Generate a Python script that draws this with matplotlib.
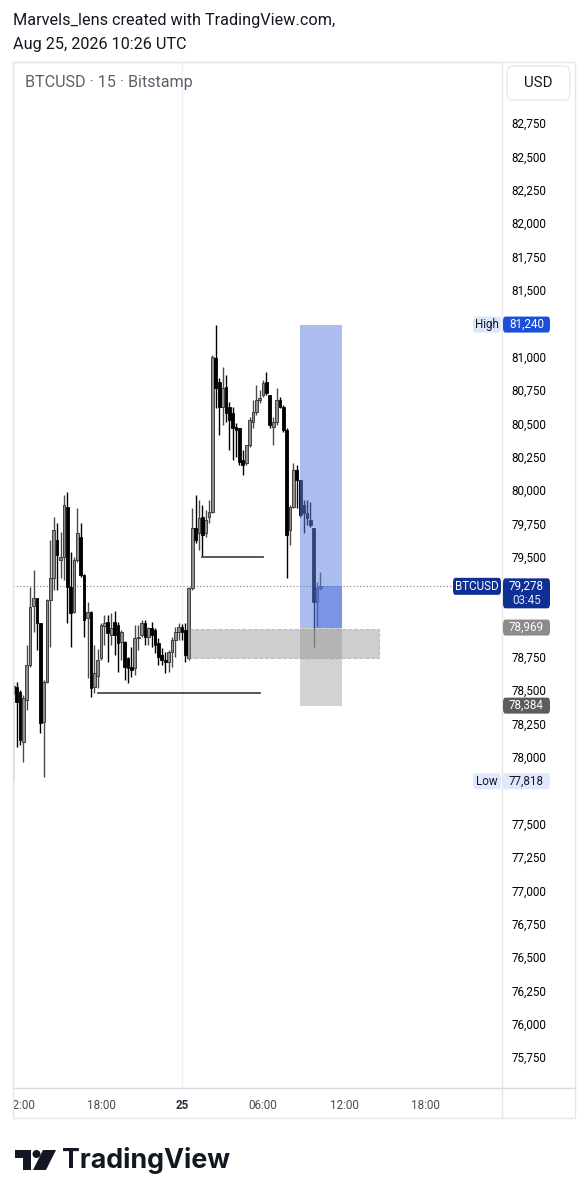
import numpy as np
import pandas as pd
import matplotlib
matplotlib.use('Agg')
import matplotlib.pyplot as plt
import matplotlib.dates as mdates
from matplotlib.patches import Rectangle, FancyBboxPatch, Circle, Polygon
from matplotlib.lines import Line2D
from matplotlib.transforms import Bbox, TransformedBbox

plt.rcParams['font.family'] = ['Roboto', 'DejaVu Sans']

# BTCUSD 15m candles, Aug 24 11:30 -> Aug 25 10:15 UTC
opens = [78476, 78526, 78488, 78114, 78426, 78688, 79130, 79188, 79001, 78263,
         78563, 79175, 79338, 79625, 79475, 79500, 79875, 79275, 79088, 79475,
         79650, 79363, 79038, 79088, 78526, 78606, 78741, 78981, 79011, 78913,
         79011, 78988, 78861, 78861, 78741, 78673, 78666, 78891, 78913, 79003,
         78898, 78966, 78951, 78853, 78763, 78726, 78711, 78786, 78876, 78936,
         78973, 78951, 78741, 79265, 79715, 79678, 79798, 79678, 79798, 79835,
         80989, 80809, 80622, 80772, 80622, 80577, 80472, 80465, 80225, 80202,
         80337, 80510, 80585, 80675, 80712, 80809, 80712, 80472, 80510, 80675,
         80622, 80450, 79700, 79873, 80150, 80075, 79888, 79828, 79775, 79715,
         79160, 79265]
highs = [78563, 78563, 78500, 78463, 78838, 79275, 79400, 79190, 79003, 78576,
         79180, 79625, 79800, 79750, 79687, 79962, 79985, 79538, 79500, 79863,
         79750, 79370, 79163, 79095, 78838, 78808, 79003, 79063, 79063, 79078,
         79093, 79011, 78951, 78865, 78748, 78823, 78988, 78988, 79026, 79026,
         78973, 79011, 78966, 78891, 78816, 78786, 78801, 78898, 78973, 79003,
         78996, 79003, 79273, 79865, 79962, 79925, 79888, 79850, 79925, 81012,
         81240, 80839, 80922, 80862, 80659, 80622, 80502, 80465, 80300, 80340,
         80547, 80675, 80787, 80750, 80824, 80884, 80715, 80547, 80765, 80697,
         80637, 80465, 79888, 80202, 80187, 80075, 79925, 79925, 79910, 79715,
         79310, 79385]
lows = [77818, 78076, 78089, 77964, 78351, 78676, 78938, 78801, 78176, 77851,
        78551, 78825, 79250, 79250, 79338, 79325, 79001, 78825, 79076, 79462,
        79350, 78900, 78589, 78451, 78480, 78516, 78726, 78838, 78711, 78838,
        78763, 78636, 78726, 78576, 78553, 78598, 78613, 78801, 78898, 78838,
        78838, 78823, 78778, 78688, 78688, 78628, 78636, 78673, 78748, 78876,
        78876, 78711, 78726, 79250, 79603, 79550, 79498, 79648, 79753, 79828,
        80614, 80412, 80487, 80509, 80300, 80225, 80247, 80187, 80112, 80187,
        80322, 80465, 80560, 80652, 80697, 80712, 80465, 80337, 80487, 80614,
        80435, 79340, 79588, 79865, 79865, 79798, 79678, 79738, 79723, 78823,
        78973, 79250]
closes = [78531, 78413, 78126, 78439, 78688, 79125, 79188, 79001, 78251, 78563,
          79175, 79338, 79700, 79513, 79500, 79888, 79275, 79076, 79475, 79675,
          79363, 79025, 79088, 78514, 78626, 78726, 78988, 79003, 78927, 78966,
          78913, 78853, 78936, 78673, 78666, 78651, 78891, 78898, 79003, 78898,
          78966, 78913, 78838, 78748, 78726, 78711, 78786, 78876, 78936, 78973,
          78936, 78763, 79265, 79715, 79625, 79790, 79663, 79775, 79835, 80997,
          80764, 80622, 80764, 80577, 80525, 80465, 80450, 80210, 80187, 80337,
          80525, 80585, 80675, 80690, 80802, 80727, 80487, 80510, 80675, 80622,
          80450, 79663, 79873, 80150, 80075, 79813, 79828, 79790, 79738, 79160,
          79265, 79278]

price_ticks = list(range(75750, 83000, 250))
# tick labels hidden under the price tags
covered_ticks = [81250, 79250, 79000, 77750]
time_ticks = ['2026-08-24 12:00', '2026-08-24 18:00', '2026-08-25 00:00',
              '2026-08-25 06:00', '2026-08-25 12:00', '2026-08-25 18:00']
time_labels = ['12:00', '18:00', '25', '06:00', '12:00', '18:00']

last_price = 79278
countdown = '03:45'
high_price = 81240
low_price = 77818

# long position tool
pos_entry = 78969
pos_target = 81240
pos_stop = 78384
pos_start = '2026-08-25 08:45'
pos_fill = '2026-08-25 09:55'
pos_end = '2026-08-25 11:50'

# grey zone rectangle
zone_top = 78955
zone_bottom = 78740
zone_start = '2026-08-25 00:25'
zone_end = '2026-08-25 14:35'

# horizontal rays drawn on the chart
hlines = [(78480, '2026-08-24 17:45', '2026-08-25 05:45'),
          (79498, '2026-08-25 01:30', '2026-08-25 06:00')]

W, H = 586, 1200
fig = plt.figure(figsize=(W / 100, H / 100), dpi=100)
fig.patch.set_facecolor('white')
ax = fig.add_axes([13 / W, (H - 1088) / H, 489 / W, 1026 / H])

def dn(s):
    return mdates.date2num(pd.Timestamp(s))

o = np.array(opens); h = np.array(highs); l = np.array(lows); c = np.array(closes)
t = mdates.date2num(pd.date_range('2026-08-24 11:30', periods=len(o), freq='15min'))
up = c >= o
bw = 0.2 / 24

ax.vlines(t[up], l[up], h[up], color='#4a4a4a', lw=1.0, zorder=2)
ax.vlines(t[~up], l[~up], h[~up], color='#000000', lw=1.0, zorder=2)
body_lo = np.minimum(o, c)
body_h = np.maximum(np.abs(c - o), 9)
ax.bar(t[up], body_h[up], bw, bottom=body_lo[up], color='#8e8e8e',
       edgecolor='#2e2e2e', lw=0.6, zorder=3)
ax.bar(t[~up], body_h[~up], bw, bottom=body_lo[~up], color='#000000',
       edgecolor='#000000', lw=0.6, zorder=3)

# day separator and last price line
ax.axvline(dn('2026-08-25'), color='#eff0f3', lw=1, zorder=0)
ax.axhline(last_price, color='#7a7a7a', lw=0.8, ls=(0, (1, 2)), zorder=1)

# position tool
p0, p1, pf = dn(pos_start), dn(pos_end), dn(pos_fill)
ax.add_patch(Rectangle((p0, pos_entry), p1 - p0, pos_target - pos_entry,
                       fc='#5f82e0', alpha=0.52, ec='none', zorder=4))
ax.add_patch(Rectangle((pf, pos_entry), p1 - pf, last_price - pos_entry,
                       fc='#3e66d8', alpha=0.45, ec='none', zorder=4))
ax.add_patch(Rectangle((p0, pos_stop), p1 - p0, pos_entry - pos_stop,
                       fc='#b4b4b4', alpha=0.6, ec='none', zorder=4))

# grey zone
z0, z1 = dn(zone_start), dn(zone_end)
ax.add_patch(Rectangle((z0, zone_bottom), z1 - z0, zone_top - zone_bottom,
                       fc='#8c8c8c', alpha=0.42, ec='#8a8a8a', ls='--', lw=0.8, zorder=5))

for price, s, e in hlines:
    ax.plot([dn(s), dn(e)], [price, price], color='#4a4a4a', lw=1.3, zorder=6)

base = dn('2026-08-25')
ax.set_xlim(base - 12.52 / 24, base + 23.70 / 24)
ax.set_ylim(75518, 83208)

ax.set_yticks(price_ticks)
ax.set_yticklabels(['' if p in covered_ticks else f'{p:,}' for p in price_ticks])
for lbl, p in zip(ax.get_yticklabels(), price_ticks):
    if p % 500 == 0:
        lbl.set_fontweight('bold')
        lbl.set_color('#2a2e39')
    else:
        lbl.set_color('#6a6d78')
ax.tick_params(axis='y', left=False, right=True, labelleft=False, labelright=True,
               length=0, pad=7, labelsize=8.4)

ax.set_xticks([dn(s) for s in time_ticks])
ax.set_xticklabels(time_labels)
ax.tick_params(axis='x', length=0, pad=8, labelsize=8.4, labelcolor='#4a4a4a')
xl = ax.get_xticklabels()
xl[2].set_fontweight('bold')
xl[2].set_color('#2a2e39')
clip = TransformedBbox(Bbox([[13 / W, 0], [1, 1]]), fig.transFigure)
for lbl in xl:
    lbl.set_clip_box(clip)
    lbl.set_clip_on(True)

for side in ['left', 'top', 'right']:
    ax.spines[side].set_color('#e6e6e8')
ax.spines['bottom'].set_color('#d6dbe6')
for sp in ax.spines.values():
    sp.set_linewidth(1)

# outer frame, price axis and time axis borders
fig.add_artist(Rectangle((13 / W, (H - 1118) / H), 562 / W, 1056 / H, fill=False,
                         ec='#e6e6e8', lw=1, transform=fig.transFigure))
fig.add_artist(Line2D([502 / W, 502 / W], [(H - 1118) / H, (H - 1088) / H],
                      color='#e6e6e8', lw=1, transform=fig.transFigure))
fig.add_artist(Line2D([502 / W, 575 / W], [(H - 1088) / H, (H - 1088) / H],
                      color='#d6dbe6', lw=1, transform=fig.transFigure))

# header texts
fig.text(13 / W, 1 - 20 / H, 'Marvels_lens created with TradingView.com,',
         fontsize=11.7, va='center', color='#131722')
fig.text(13 / W, 1 - 44 / H, 'Aug 25, 2026 10:26 UTC',
         fontsize=11.7, va='center', color='#131722')
fig.text(25 / W, 1 - 83 / H, 'BTCUSD · 15 · Bitstamp',
         fontsize=11.6, va='center', color='#5d606b')
fig.add_artist(FancyBboxPatch((507 / W, (H - 100) / H), 63 / W, 34 / H,
                              boxstyle='round,pad=0,rounding_size=0.008',
                              fc='white', ec='#e6e8ee', lw=1, transform=fig.transFigure))
fig.text(538.5 / W, 1 - 83 / H, 'USD', fontsize=10.8, ha='center', va='center',
         color='#131722')

def tag(x0, w, price, text, fc, tc, hgt=16, weight='normal'):
    yc = ax.transData.transform((0, price))[1]
    fig.add_artist(FancyBboxPatch((x0 / W, (yc - hgt / 2) / H), w / W, hgt / H,
                                  boxstyle='round,pad=0,rounding_size=0.004',
                                  fc=fc, ec='none', transform=fig.transFigure, zorder=10))
    fig.text((x0 + w / 2) / W, yc / H, text, ha='center', va='center', color=tc,
             fontsize=8.4, fontweight=weight, zorder=11, linespacing=1.1)

tag(473, 28, high_price, 'High', '#dce6fb', '#131722')
tag(503, 47, high_price, f'{high_price:,}', '#1c4fd8', 'white')
tag(453, 48, last_price, 'BTCUSD', '#0f2f94', 'white', hgt=17)
yc_last = ax.transData.transform((0, last_price))[1]
fig.add_artist(FancyBboxPatch((503 / W, (yc_last - 22) / H), 47 / W, 30 / H,
                              boxstyle='round,pad=0,rounding_size=0.004',
                              fc='#0f2f94', ec='none', transform=fig.transFigure, zorder=10))
fig.text(526.5 / W, yc_last / H, f'{last_price:,}', ha='center', va='center',
         color='white', fontsize=8.4, zorder=11)
fig.text(526.5 / W, (yc_last - 14) / H, countdown, ha='center', va='center',
         color='#dfe6fb', fontsize=8.4, zorder=11)
tag(503, 47, pos_entry, f'{pos_entry:,}', '#8b8b8b', 'white')
tag(503, 47, pos_stop, f'{pos_stop:,}', '#5c5c5c', 'white')
tag(473, 28, low_price, 'Low', '#e0e9fb', '#131722')
tag(503, 47, low_price, f'{low_price:,}', '#e0e9fb', '#131722')

# TradingView logo
lax = fig.add_axes([15 / W, (H - 1172) / H, 42 / W, 24 / H])
lax.set_xlim(0, 42)
lax.set_ylim(24, 0)
lax.axis('off')
lax.add_patch(Polygon([(0, 2), (16, 2), (16, 22), (8, 22), (8, 10), (0, 10)],
                      closed=True, fc='#131722', ec='none'))
lax.add_patch(Circle((21.5, 6), 4, fc='#131722', ec='none'))
lax.add_patch(Polygon([(28, 2), (41, 2), (31, 22), (18, 22)], closed=True,
                      fc='#131722', ec='none'))
fig.text(62 / W, 1 - 1160 / H, 'TradingView', fontsize=19.3, fontweight='bold',
         family=['Inter', 'DejaVu Sans'], va='center', color='#131722')

fig.savefig('out.png', dpi=100)
